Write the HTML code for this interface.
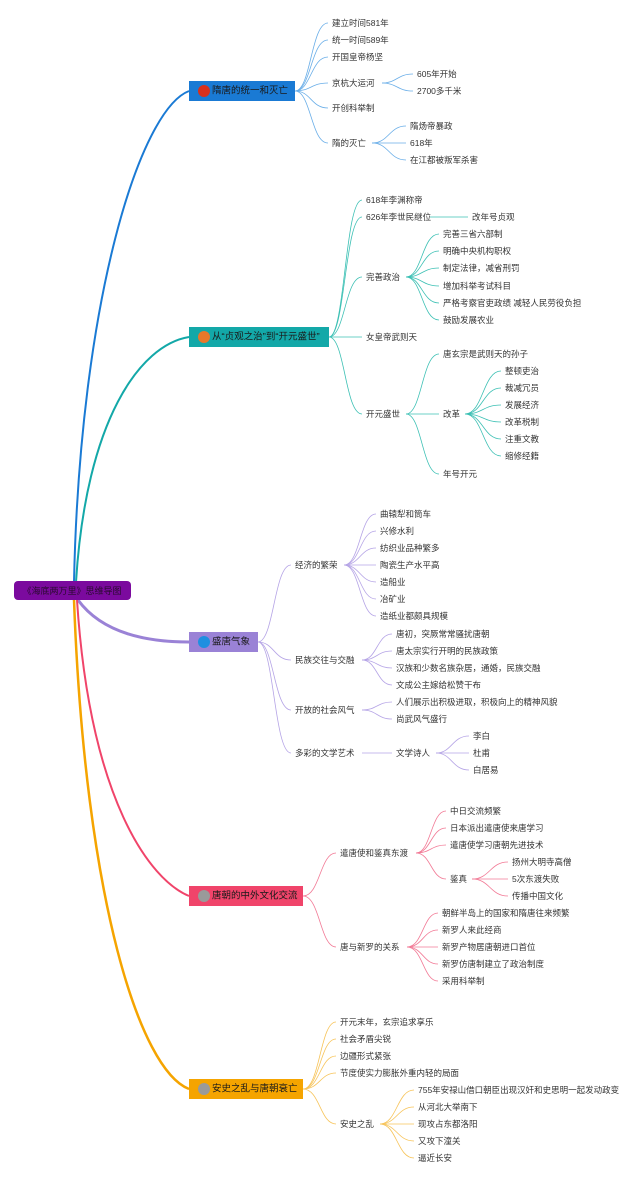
<!DOCTYPE html>
<html><head><meta charset="utf-8"><style>
html,body{margin:0;padding:0;background:#fff;}
svg{display:block;}
text{font-family:"Liberation Sans","Noto Sans CJK SC",sans-serif;font-size:8.5px;fill:#333;dominant-baseline:central;}
.n{font-size:9.5px;fill:#1a1a1a;}
</style></head><body>
<svg width="640" height="1181" viewBox="0 0 640 1181" xmlns="http://www.w3.org/2000/svg">
<g fill="none" stroke-width="2">
<path d="M74 582 C80 300,140 110,189 91" stroke="#1a7ad4"/>
<path d="M76 582 C86 420,140 345,189 337" stroke="#13a8a8"/>
<path d="M78 600 C100 630,140 642,189 642" stroke="#9a82d6" stroke-width="3"/>
<path d="M77 600 C90 800,150 880,189 896" stroke="#f0446a"/>
<path d="M74 600 C85 900,140 1070,189 1089" stroke="#f5a400" stroke-width="2.5"/>
</g>
<rect x="14" y="581" width="117" height="19" rx="4" fill="#7b0a9e"/>
<text class="n" x="72" y="591" text-anchor="middle" style="font-size:9px;fill:#2a0a30">《海底两万里》思维导图</text>

<g fill="none" stroke="#6aaee8" stroke-width="0.8">
<path d="M295 91 C311 91 311 23 328 23"/><path d="M295 91 C311 91 311 40 328 40"/><path d="M295 91 C311 91 311 57 328 57"/><path d="M295 91 C311 91 311 83 328 83"/><path d="M295 91 C311 91 311 108 328 108"/><path d="M295 91 C311 91 311 143 328 143"/>
<path d="M382 83 C397 83 397 74 413 74"/><path d="M382 83 C397 83 397 91 413 91"/>
<path d="M372 143 C389 143 389 126 406 126"/><path d="M372 143 L406 143"/><path d="M372 143 C389 143 389 160 406 160"/>
</g>
<rect x="189" y="81" width="106" height="20" fill="#1a7ad4"/>
<circle cx="204" cy="91" r="6" fill="#d9301c"/>
<text class="n" x="212" y="91">隋唐的统一和灭亡</text>
<text x="332" y="23">建立时间581年</text><text x="332" y="40">统一时间589年</text><text x="332" y="57">开国皇帝杨坚</text><text x="332" y="83">京杭大运河</text><text x="332" y="108">开创科举制</text><text x="332" y="143">隋的灭亡</text>
<text x="417" y="74">605年开始</text><text x="417" y="91">2700多千米</text>
<text x="410" y="126">隋炀帝暴政</text><text x="410" y="143">618年</text><text x="410" y="160">在江都被叛军杀害</text>

<g fill="none" stroke="#3cc0b4" stroke-width="0.8">
<path d="M329 337 C345 337 345 200 362 200"/><path d="M329 337 C345 337 345 217 362 217"/><path d="M329 337 C345 337 345 277 362 277"/><path d="M329 337 L362 337"/><path d="M329 337 C345 337 345 414 362 414"/>
<path d="M430 217 L468 217"/>
<path d="M406 277 C422 277 422 234 439 234"/><path d="M406 277 C422 277 422 251 439 251"/><path d="M406 277 C422 277 422 268 439 268"/><path d="M406 277 C422 277 422 286 439 286"/><path d="M406 277 C422 277 422 303 439 303"/><path d="M406 277 C422 277 422 320 439 320"/>
<path d="M406 414 C422 414 422 354 439 354"/><path d="M406 414 L439 414"/><path d="M406 414 C422 414 422 474 439 474"/>
<path d="M465 414 C483 414 483 371 501 371"/><path d="M465 414 C483 414 483 388 501 388"/><path d="M465 414 C483 414 483 405 501 405"/><path d="M465 414 C483 414 483 422 501 422"/><path d="M465 414 C483 414 483 439 501 439"/><path d="M465 414 C483 414 483 456 501 456"/>
</g>
<rect x="189" y="327" width="140" height="20" fill="#13a8a8"/>
<circle cx="204" cy="337" r="6" fill="#e8782a"/>
<text class="n" x="212" y="337">从“贞观之治”到“开元盛世”</text>
<text x="366" y="200">618年李渊称帝</text><text x="366" y="217">626年李世民继位</text><text x="472" y="217">改年号贞观</text><text x="366" y="277">完善政治</text><text x="366" y="337">女皇帝武则天</text><text x="366" y="414">开元盛世</text>
<text x="443" y="234">完善三省六部制</text><text x="443" y="251">明确中央机构职权</text><text x="443" y="268">制定法律，减省刑罚</text><text x="443" y="286">增加科举考试科目</text><text x="443" y="303">严格考察官吏政绩 减轻人民劳役负担</text><text x="443" y="320">鼓励发展农业</text>
<text x="443" y="354">唐玄宗是武则天的孙子</text><text x="443" y="414">改革</text><text x="443" y="474">年号开元</text>
<text x="505" y="371">整顿吏治</text><text x="505" y="388">裁减冗员</text><text x="505" y="405">发展经济</text><text x="505" y="422">改革税制</text><text x="505" y="439">注重文教</text><text x="505" y="456">缩修经籍</text>

<g fill="none" stroke="#b5a4e6" stroke-width="0.8">
<path d="M258 642 C274 642 274 565 291 565"/><path d="M258 642 C274 642 274 660 291 660"/><path d="M258 642 C274 642 274 710 291 710"/><path d="M258 642 C274 642 274 753 291 753"/>
<path d="M344 565 C360 565 360 514 376 514"/><path d="M344 565 C360 565 360 531 376 531"/><path d="M344 565 C360 565 360 548 376 548"/><path d="M344 565 L376 565"/><path d="M344 565 C360 565 360 582 376 582"/><path d="M344 565 C360 565 360 599 376 599"/><path d="M344 565 C360 565 360 616 376 616"/>
<path d="M362 660 C377 660 377 634 392 634"/><path d="M362 660 C377 660 377 651 392 651"/><path d="M362 660 C377 660 377 668 392 668"/><path d="M362 660 C377 660 377 685 392 685"/>
<path d="M362 710 C377 710 377 702 392 702"/><path d="M362 710 C377 710 377 719 392 719"/>
<path d="M362 753 L392 753"/>
<path d="M436 753 C452 753 452 736 469 736"/><path d="M436 753 L469 753"/><path d="M436 753 C452 753 452 770 469 770"/>
</g>
<rect x="189" y="632" width="69" height="20" fill="#9a82d6"/>
<circle cx="204" cy="642" r="6" fill="#1f8fe0"/>
<text class="n" x="212" y="642">盛唐气象</text>
<text x="295" y="565">经济的繁荣</text><text x="295" y="660">民族交往与交融</text><text x="295" y="710">开放的社会风气</text><text x="295" y="753">多彩的文学艺术</text>
<text x="380" y="514">曲辕犁和筒车</text><text x="380" y="531">兴修水利</text><text x="380" y="548">纺织业品种繁多</text><text x="380" y="565">陶瓷生产水平高</text><text x="380" y="582">造船业</text><text x="380" y="599">冶矿业</text><text x="380" y="616">造纸业都颇具规模</text>
<text x="396" y="634">唐初，突厥常常骚扰唐朝</text><text x="396" y="651">唐太宗实行开明的民族政策</text><text x="396" y="668">汉族和少数名族杂居，通婚，民族交融</text><text x="396" y="685">文成公主嫁给松赞干布</text>
<text x="396" y="702">人们展示出积极进取，积极向上的精神风貌</text><text x="396" y="719">尚武风气盛行</text>
<text x="396" y="753">文学诗人</text>
<text x="473" y="736">李白</text><text x="473" y="753">杜甫</text><text x="473" y="770">白居易</text>

<g fill="none" stroke="#f27a96" stroke-width="0.8">
<path d="M303 896 C320 896 320 853 336 853"/><path d="M303 896 C320 896 320 947 336 947"/>
<path d="M416 853 C431 853 431 811 446 811"/><path d="M416 853 C431 853 431 828 446 828"/><path d="M416 853 C431 853 431 845 446 845"/><path d="M416 853 C431 853 431 879 446 879"/>
<path d="M472 879 C490 879 490 862 508 862"/><path d="M472 879 L508 879"/><path d="M472 879 C490 879 490 896 508 896"/>
<path d="M407 947 C423 947 423 913 438 913"/><path d="M407 947 C423 947 423 930 438 930"/><path d="M407 947 L438 947"/><path d="M407 947 C423 947 423 964 438 964"/><path d="M407 947 C423 947 423 981 438 981"/>
</g>
<rect x="189" y="886" width="114" height="20" fill="#f0446a"/>
<circle cx="204" cy="896" r="6" fill="#9a9a9a"/>
<text class="n" x="212" y="896">唐朝的中外文化交流</text>
<text x="340" y="853">遣唐使和鉴真东渡</text><text x="340" y="947">唐与新罗的关系</text>
<text x="450" y="811">中日交流频繁</text><text x="450" y="828">日本派出遣唐使来唐学习</text><text x="450" y="845">遣唐使学习唐朝先进技术</text><text x="450" y="879">鉴真</text>
<text x="512" y="862">扬州大明寺高僧</text><text x="512" y="879">5次东渡失败</text><text x="512" y="896">传播中国文化</text>
<text x="442" y="913">朝鲜半岛上的国家和隋唐往来频繁</text><text x="442" y="930">新罗人来此经商</text><text x="442" y="947">新罗产物居唐朝进口首位</text><text x="442" y="964">新罗仿唐制建立了政治制度</text><text x="442" y="981">采用科举制</text>

<g fill="none" stroke="#f7c45a" stroke-width="0.8">
<path d="M303 1089 C320 1089 320 1022 336 1022"/><path d="M303 1089 C320 1089 320 1039 336 1039"/><path d="M303 1089 C320 1089 320 1056 336 1056"/><path d="M303 1089 C320 1089 320 1073 336 1073"/><path d="M303 1089 C320 1089 320 1124 336 1124"/>
<path d="M380 1124 C397 1124 397 1090 414 1090"/><path d="M380 1124 C397 1124 397 1107 414 1107"/><path d="M380 1124 L414 1124"/><path d="M380 1124 C397 1124 397 1141 414 1141"/><path d="M380 1124 C397 1124 397 1158 414 1158"/>
</g>
<rect x="189" y="1079" width="114" height="20" fill="#f5a400"/>
<circle cx="204" cy="1089" r="6" fill="#9a9a9a"/>
<text class="n" x="212" y="1089">安史之乱与唐朝衰亡</text>
<text x="340" y="1022">开元末年，玄宗追求享乐</text><text x="340" y="1039">社会矛盾尖锐</text><text x="340" y="1056">边疆形式紧张</text><text x="340" y="1073">节度使实力膨胀外重内轻的局面</text><text x="340" y="1124">安史之乱</text>
<text x="418" y="1090">755年安禄山借口朝臣出现汉奸和史思明一起发动政变</text><text x="418" y="1107">从河北大举南下</text><text x="418" y="1124">现攻占东都洛阳</text><text x="418" y="1141">又攻下潼关</text><text x="418" y="1158">逼近长安</text>
</svg>
</body></html>
